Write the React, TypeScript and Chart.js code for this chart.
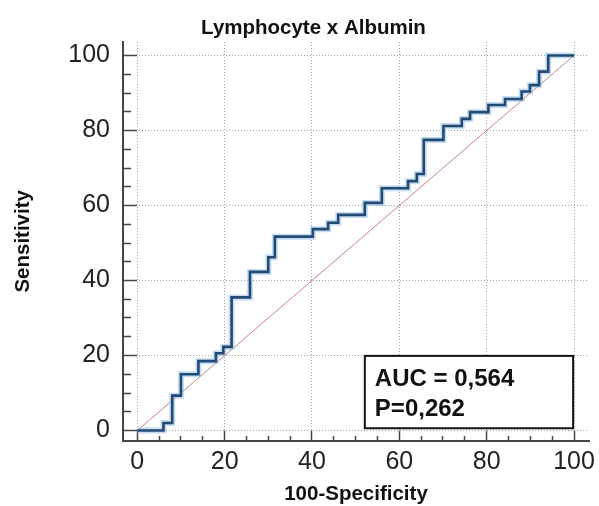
import React, { useEffect, useRef } from 'react';
import { Chart, registerables } from 'chart.js';

Chart.register(...registerables);

// ---- texts ----
const CHART_TITLE = 'Lymphocyte x Albumin';
const X_TITLE = '100-Specificity';
const Y_TITLE = 'Sensitivity';
const AUC_TEXT = 'AUC = 0,564';
const P_TEXT = 'P=0,262';

// ---- ROC curve vertices (100-Specificity, Sensitivity) ----
const fprValues = [0, 6, 8, 10, 14, 18, 19.7, 21.6, 25.8, 30, 31.5, 40.2, 43.7, 46, 52.1, 56, 62, 64, 65.6, 70.1, 74.3, 76.2, 80.4, 84.2, 88, 89.9, 92, 94.1, 100];
const tprValues = [0, 2, 9.3, 15, 18.5, 20.6, 22.3, 35.5, 42.3, 46.2, 51.7, 53.7, 55.4, 57.5, 60.7, 64.6, 66.5, 68.4, 77.5, 81.2, 83.1, 84.9, 86.8, 88.4, 90.4, 92.1, 95.7, 100, 100];

// ---- reference diagonal ----
const diagonalX = [0, 100];
const diagonalY = [0, 100];

// ---- ticks ----
const tickValues = [0, 5, 10, 15, 20, 25, 30, 35, 40, 45, 50, 55, 60, 65, 70, 75, 80, 85, 90, 95, 100];
const majorTicks = [0, 20, 40, 60, 80, 100];

const FONT = "'Liberation Sans', Arial, Helvetica, sans-serif";

const isMajor = (v: number) => majorTicks.includes(v);

const statsBox = {
  id: 'statsBox',
  afterDatasetsDraw(chart: any, _args: any, opts: any) {
    const { ctx, scales } = chart;
    const xs = scales.x;
    const ys = scales.y;
    const left = xs.getPixelForValue(opts.x0);
    const right = xs.getPixelForValue(opts.x1);
    const top = ys.getPixelForValue(opts.y1);
    const bottom = ys.getPixelForValue(opts.y0);
    ctx.save();
    ctx.fillStyle = '#ffffff';
    ctx.fillRect(left, top, right - left, bottom - top);
    ctx.lineWidth = opts.borderWidth;
    ctx.strokeStyle = opts.borderColor;
    ctx.strokeRect(left, top, right - left, bottom - top);
    ctx.fillStyle = opts.color;
    ctx.font = `bold ${opts.fontSize}px ${FONT}`;
    ctx.textAlign = 'left';
    ctx.textBaseline = 'alphabetic';
    opts.lines.forEach((line: string, i: number) => {
      ctx.fillText(line, xs.getPixelForValue(opts.textX), ys.getPixelForValue(opts.textY[i]));
    });
    ctx.restore();
  },
};

export default function App() {
  const canvasRef = useRef<HTMLCanvasElement | null>(null);

  useEffect(() => {
    if (!canvasRef.current) return;
    const rocData = fprValues.map((x, i) => ({ x, y: tprValues[i] }));
    const diagData = diagonalX.map((x, i) => ({ x, y: diagonalY[i] }));

    const chart = new Chart(canvasRef.current, {
      type: 'line',
      data: {
        datasets: [
          {
            label: 'ROC',
            data: rocData,
            stepped: 'before',
            borderColor: '#234a72',
            borderWidth: 2.6,
            pointRadius: 0,
            fill: false,
          },
          {
            label: 'ROC halo',
            data: rocData,
            stepped: 'before',
            borderColor: 'rgba(150, 192, 232, 0.55)',
            borderWidth: 6,
            pointRadius: 0,
            fill: false,
          },
          {
            label: 'Reference',
            data: diagData,
            borderColor: '#c4847f',
            borderWidth: 1,
            pointRadius: 0,
            fill: false,
          },
        ],
      },
      plugins: [statsBox],
      options: {
        responsive: false,
        animation: false,
        devicePixelRatio: 1,
        layout: { padding: { left: 38, right: 10, top: 0, bottom: 0 } },
        plugins: {
          legend: { display: false },
          tooltip: { enabled: false },
          title: {
            display: true,
            text: CHART_TITLE,
            color: '#111111',
            font: { family: FONT, size: 20.5, weight: 'bold' },
            padding: { top: 16, bottom: 1.4 },
          },
          statsBox: {
            x0: 52.1,
            x1: 99.8,
            y0: 0.6,
            y1: 19.9,
            textX: 54.4,
            textY: [11.9, 3.9],
            lines: [AUC_TEXT, P_TEXT],
            fontSize: 24,
            color: '#111111',
            borderColor: '#111111',
            borderWidth: 2,
          },
        } as any,
        scales: {
          x: {
            type: 'linear',
            min: -3.27,
            max: 103.43,
            afterBuildTicks: (s: any) => {
              s.ticks = tickValues.map((value) => ({ value }));
            },
            afterFit: (s: any) => {
              s.height = 65.3;
              s.paddingLeft = 0;
              s.paddingRight = 0;
              s.paddingTop = 0;
              s.paddingBottom = 0;
            },
            ticks: {
              autoSkip: false,
              maxRotation: 0,
              minRotation: 0,
              padding: 16.8,
              color: '#222222',
              font: { family: FONT, size: 25 },
              callback: (v: any) => (isMajor(Number(v)) ? String(v) : ''),
            },
            grid: {
              color: (c: any) => (c.tick && isMajor(c.tick.value) ? '#a0a0a0' : 'rgba(0,0,0,0)'),
              lineWidth: 1,
              borderDash: [1, 2],
              drawTicks: true,
              tickLength: -10,
              tickColor: '#444444',
              tickWidth: 1.5,
              tickBorderDash: (c: any) => (c.tick && isMajor(c.tick.value) ? [] : [6, 100]),
            },
            border: { display: true, color: '#444444', width: 2, dash: [1, 2] },
            title: {
              display: true,
              text: X_TITLE,
              color: '#111111',
              font: { family: FONT, size: 20.5, weight: 'bold' },
              padding: { top: 0, bottom: -1 },
            },
          },
          y: {
            type: 'linear',
            min: -2.72,
            max: 103.6,
            afterBuildTicks: (s: any) => {
              s.ticks = tickValues.map((value) => ({ value }));
            },
            afterFit: (s: any) => {
              s.width = 85;
              s.paddingLeft = 0;
              s.paddingRight = 0;
              s.paddingTop = 0;
              s.paddingBottom = 0;
            },
            ticks: {
              autoSkip: false,
              padding: 27,
              color: '#222222',
              font: { family: FONT, size: 25 },
              callback: (v: any) => (isMajor(Number(v)) ? String(v) : ''),
            },
            grid: {
              color: (c: any) => (c.tick && isMajor(c.tick.value) ? '#a0a0a0' : 'rgba(0,0,0,0)'),
              lineWidth: 1,
              borderDash: [1, 2],
              drawTicks: true,
              tickLength: -14,
              tickColor: '#444444',
              tickWidth: 1.5,
              tickBorderDash: (c: any) => (c.tick && isMajor(c.tick.value) ? [] : [0, 6, 9, 100]),
            },
            border: { display: true, color: '#444444', width: 2, dash: [1, 2] },
            title: {
              display: true,
              text: Y_TITLE,
              color: '#111111',
              font: { family: FONT, size: 20.5, weight: 'bold' },
              padding: { top: -27.3, bottom: 0 },
            },
          },
        },
      } as any,
    });
    return () => chart.destroy();
  }, []);

  return (
    <div style={{ position: 'fixed', left: 0, top: 0, width: 599, height: 506, background: '#ffffff' }}>
      <canvas ref={canvasRef} width={599} height={506} style={{ display: 'block', width: 599, height: 506 }} />
    </div>
  );
}
